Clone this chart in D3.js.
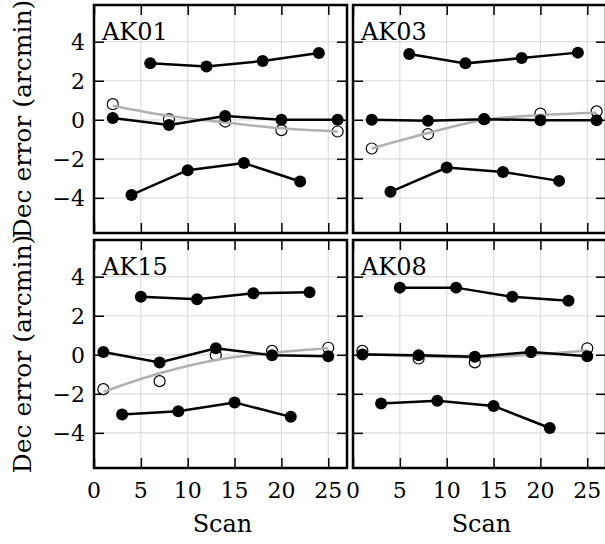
<!DOCTYPE html>
<html><head><meta charset="utf-8">
<script src="https://cdn.jsdelivr.net/npm/d3@7"></script>
<style>
html,body{margin:0;padding:0;background:#fff;}
svg{display:block;font-family:"DejaVu Serif",serif;}
</style></head>
<body><svg id="c" width="605" height="544"></svg>
<script>
// ---- data ----
const panelNames = ["AK01", "AK03", "AK15", "AK08"];
const xTicks = [0, 5, 10, 15, 20, 25];
const yTicks = [-4, -2, 0, 2, 4];

const upperX = [[6,12,18,24],[6,12,18,24],[5,11,17,23],[5,11,17,23]];
const upperY = [[2.89,2.73,3.01,3.42],[3.37,2.89,3.16,3.44],[2.97,2.85,3.15,3.20],[3.44,3.44,2.97,2.77]];

const middleX = [[2,8,14,20,26],[2,8,14,20,26],[1,7,13,19,25],[1,7,13,19,25]];
const middleY = [[0.09,-0.27,0.19,0.0,0.0],[0.0,-0.05,0.03,-0.02,-0.02],[0.14,-0.39,0.33,-0.03,-0.07],[0.02,-0.02,-0.10,0.14,-0.07]];

const lowerX = [[4,10,16,22],[4,10,16,22],[3,9,15,21],[3,9,15,21]];
const lowerY = [[-3.85,-2.58,-2.22,-3.16],[-3.69,-2.45,-2.67,-3.13],[-3.06,-2.89,-2.44,-3.18],[-2.50,-2.36,-2.62,-3.75]];

const openY = [[0.80,0.03,-0.09,-0.53,-0.60],[-1.47,-0.73,0.03,0.32,0.43],[-1.76,-1.35,-0.02,0.20,0.36],[0.20,-0.19,-0.39,0.15,0.33]];
const fitY  = [[0.72,0.20,-0.14,-0.44,-0.60],[-1.47,-0.68,0.0,0.24,0.36],[-1.90,-0.95,-0.27,0.10,0.33],[0.05,-0.08,-0.13,0.0,0.22]];

// ---- layout ----
const svg = d3.select("#c");
const cols = [94, 353], rows = [5, 240];
const pw = 253, ph = 228;
const xDomain = [0, 27], yDomain = [-5.8, 5.88];

panelNames.forEach((name, i) => {
  const r = Math.floor(i / 2), c = i % 2;
  const x0 = cols[c], y0 = rows[r];
  const x = d3.scaleLinear().domain(xDomain).range([0, pw]);
  const y = d3.scaleLinear().domain(yDomain).range([ph, 0]);
  const g = svg.append("g").attr("transform", `translate(${x0},${y0})`);

  // grid
  g.append("g").selectAll("line").data(xTicks).join("line")
    .attr("x1", d => x(d)).attr("x2", d => x(d)).attr("y1", 0).attr("y2", ph)
    .attr("stroke", "#dcdcdc").attr("stroke-width", 1.2);
  g.append("g").selectAll("line").data(yTicks).join("line")
    .attr("y1", d => y(d)).attr("y2", d => y(d)).attr("x1", 0).attr("x2", pw)
    .attr("stroke", "#dcdcdc").attr("stroke-width", 1.2);

  // inward ticks on four sides using d3 axes
  const tl = 10;
  const axB = g.append("g").attr("transform", `translate(0,${ph})`)
    .call(d3.axisTop(x).tickValues(xTicks).tickSize(tl).tickFormat(""));
  const axT = g.append("g")
    .call(d3.axisBottom(x).tickValues(xTicks).tickSize(tl).tickFormat(""));
  const axL = g.append("g")
    .call(d3.axisRight(y).tickValues(yTicks).tickSize(tl).tickFormat(""));
  const axR = g.append("g").attr("transform", `translate(${pw},0)`)
    .call(d3.axisLeft(y).tickValues(yTicks).tickSize(tl).tickFormat(""));
  [axB, axT, axL, axR].forEach(a => {
    a.select(".domain").remove();
    a.selectAll("line").attr("stroke", "#000").attr("stroke-width", 1.5);
  });

  // tick labels
  if (c === 0) {
    g.append("g").selectAll("text").data(yTicks).join("text")
      .attr("x", -9).attr("y", d => y(d)).attr("dy", "0.36em")
      .attr("text-anchor", "end").attr("font-size", 22)
      .text(d => d < 0 ? "\u2212" + Math.abs(d) : d);
    svg.append("text")
      .attr("transform", `translate(31,${y0 + ph / 2}) rotate(-90)`)
      .attr("text-anchor", "middle").attr("font-size", 25)
      .text("Dec error (arcmin)");
  }
  if (r === 1) {
    g.append("g").selectAll("text").data(xTicks).join("text")
      .attr("x", d => x(d)).attr("y", ph + 30)
      .attr("text-anchor", "middle").attr("font-size", 22)
      .text(d => d);
    g.append("text").attr("x", pw / 2 + 2).attr("y", ph + 64)
      .attr("text-anchor", "middle").attr("font-size", 24).text("Scan");
  }

  const line = d3.line().x(d => x(d[0])).y(d => y(d[1]));
  const fitLine = d3.line().x(d => x(d[0])).y(d => y(d[1])).curve(d3.curveMonotoneX);

  // open circles
  const openPts = middleX[i].map((v, k) => [v, openY[i][k]]);
  g.append("g").selectAll("circle").data(openPts).join("circle")
    .attr("cx", d => x(d[0])).attr("cy", d => y(d[1])).attr("r", 5.5)
    .attr("fill", "#fff").attr("stroke", "#000").attr("stroke-width", 1.2);

  // gray fit
  const fitPts = middleX[i].map((v, k) => [v, fitY[i][k]]);
  g.append("path").datum(fitPts).attr("d", fitLine)
    .attr("fill", "none").attr("stroke", "#b0b0b0").attr("stroke-width", 2.5);

  // black series
  [[upperX, upperY], [middleX, middleY], [lowerX, lowerY]].forEach(([xs, ys]) => {
    const pts = xs[i].map((v, k) => [v, ys[i][k]]);
    g.append("path").datum(pts).attr("d", line)
      .attr("fill", "none").attr("stroke", "#000").attr("stroke-width", 2.5);
    g.append("g").selectAll("circle").data(pts).join("circle")
      .attr("cx", d => x(d[0])).attr("cy", d => y(d[1])).attr("r", 6)
      .attr("fill", "#000");
  });

  // frame
  g.append("rect").attr("x", 0).attr("y", 0).attr("width", pw).attr("height", ph)
    .attr("fill", "none").attr("stroke", "#000").attr("stroke-width", 2.5);

  // panel label
  g.append("text").attr("x", 8).attr("y", 35).attr("font-size", 24).text(name);
});
</script>
</body></html>
